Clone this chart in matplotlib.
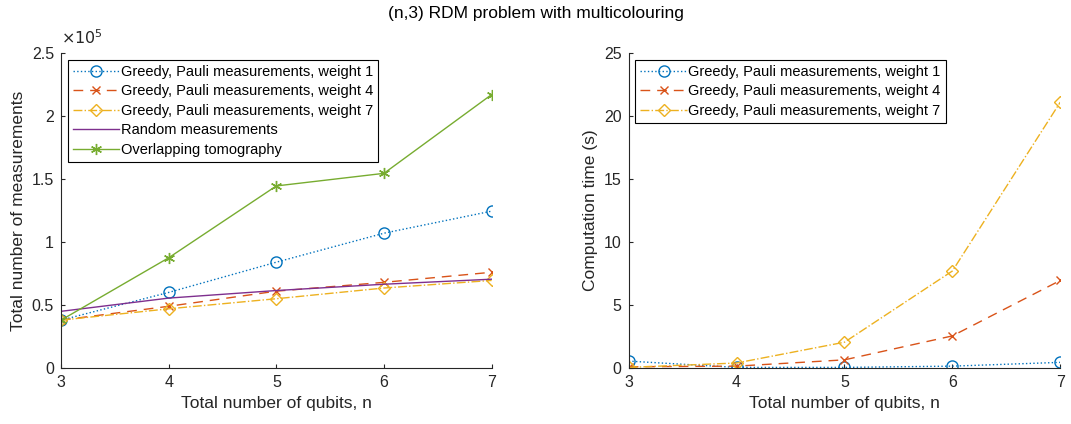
import matplotlib
matplotlib.use("Agg")
import matplotlib.pyplot as plt
from matplotlib.ticker import FuncFormatter

plt.rcParams['font.family'] = ['Liberation Sans', 'DejaVu Sans']

n_qubits = [3, 4, 5, 6, 7]

# Left: total number of measurements
meas_w1 = [0.38e5, 0.60e5, 0.84e5, 1.07e5, 1.245e5]
meas_w4 = [0.38e5, 0.49e5, 0.61e5, 0.68e5, 0.76e5]
meas_w7 = [0.38e5, 0.47e5, 0.55e5, 0.635e5, 0.695e5]
meas_random = [0.45e5, 0.555e5, 0.615e5, 0.665e5, 0.705e5]
meas_overlap = [0.38e5, 0.875e5, 1.445e5, 1.545e5, 2.17e5]

# Right: computation time (s)
time_w1 = [0.55, 0.05, 0.05, 0.15, 0.45]
time_w4 = [0.10, 0.15, 0.65, 2.55, 6.95]
time_w7 = [0.05, 0.40, 2.05, 7.70, 21.1]

labels = ["Greedy, Pauli measurements, weight 1",
          "Greedy, Pauli measurements, weight 4",
          "Greedy, Pauli measurements, weight 7",
          "Random measurements",
          "Overlapping tomography"]

C1, C2, C3, C4, C5 = '#0072BD', '#D95319', '#EDB120', '#7E2F8E', '#77AC30'
AX = '#262626'
ASTERISK = (6, 2, 0)
DASH = (0, (7, 5))

fig = plt.figure(figsize=(10.71, 4.24), dpi=100)
ax1 = fig.add_axes([0.057, 0.132, 0.402, 0.743])
ax2 = fig.add_axes([0.587, 0.132, 0.403, 0.743])

ms = 8
ax1.plot(n_qubits, meas_w1, linestyle=':', color=C1, marker='o', mfc='none', ms=ms, lw=1, label=labels[0])
ax1.plot(n_qubits, meas_w4, linestyle=DASH, color=C2, marker='x', ms=ms-2, lw=1, label=labels[1])
ax1.plot(n_qubits, meas_w7, linestyle='-.', color=C3, marker='D', mfc='none', ms=ms-2, lw=1, label=labels[2])
ax1.plot(n_qubits, meas_random, linestyle='-', color=C4, lw=1, label=labels[3])
ax1.plot(n_qubits, meas_overlap, linestyle='-', color=C5, marker=ASTERISK, ms=ms, lw=1, label=labels[4])

ax2.plot(n_qubits, time_w1, linestyle=':', color=C1, marker='o', mfc='none', ms=ms, lw=1, label=labels[0])
ax2.plot(n_qubits, time_w4, linestyle=DASH, color=C2, marker='x', ms=ms-2, lw=1, label=labels[1])
ax2.plot(n_qubits, time_w7, linestyle='-.', color=C3, marker='D', mfc='none', ms=ms-2, lw=1, label=labels[2])

for ax in (ax1, ax2):
    ax.set_xlim(3, 7)
    ax.set_xticks(n_qubits)
    ax.spines['top'].set_visible(False)
    ax.spines['right'].set_visible(False)
    for s in ('left', 'bottom'):
        ax.spines[s].set_color(AX)
        ax.spines[s].set_linewidth(0.8)
    ax.tick_params(direction='in', colors=AX, labelsize=11.5, length=3, width=0.8, pad=5)
    ax.set_xlabel("Total number of qubits, n", fontsize=12.5, color=AX)
    leg = ax.legend(loc='upper left', fontsize=10.5, frameon=True, fancybox=False,
                    edgecolor='black', framealpha=1, borderaxespad=0.45,
                    handlelength=3.2, handletextpad=0.1, labelspacing=0.38,
                    borderpad=0.35)
    leg.get_frame().set_linewidth(0.8)

ax1.set_ylim(0, 2.5e5)
ax1.set_yticks([0, 0.5e5, 1e5, 1.5e5, 2e5, 2.5e5])
ax1.yaxis.set_major_formatter(FuncFormatter(lambda v, p: "%g" % (v / 1e5)))
ax1.text(0.0, 1.02, r"$\times10^{5}$", transform=ax1.transAxes, fontsize=11.5,
         color=AX, ha='left', va='bottom')
ax1.set_ylabel("Total number of measurements", fontsize=12.5, color=AX)

ax2.set_ylim(0, 25)
ax2.set_yticks([0, 5, 10, 15, 20, 25])
ax2.set_ylabel("Computation time (s)", fontsize=12.5, color=AX)

fig.suptitle("(n,3) RDM problem with multicolouring", fontsize=12.5, y=0.985, color='black')

fig.savefig("out.png", dpi=100)
